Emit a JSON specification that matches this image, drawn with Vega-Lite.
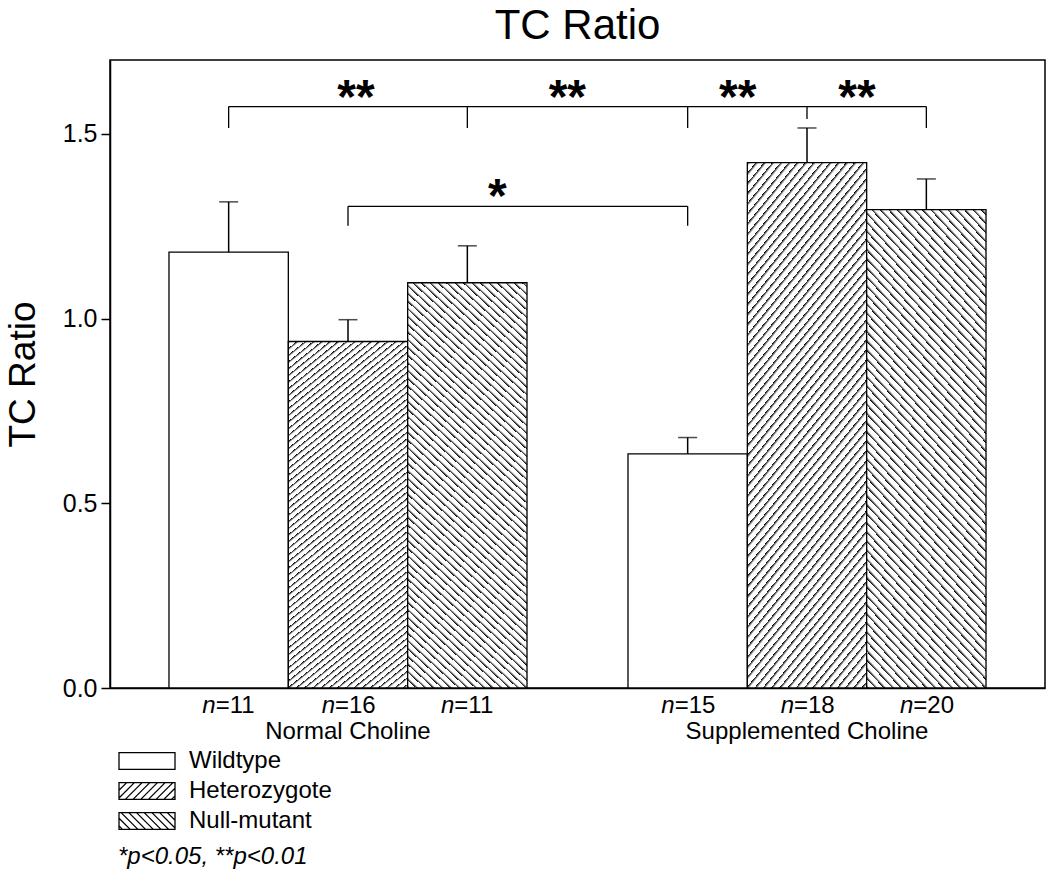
{
"$schema":"https://vega.github.io/schema/vega-lite/v6.json",
"autosize":"none",
"padding":{"left":110,"top":60,"right":5,"bottom":187},
"width":935,"height":628,
"background":"white",
"title":{"text":"TC Ratio","fontSize":42,"fontWeight":"normal","font":"Liberation Sans","color":"#000","offset":12,"anchor":"middle"},
"config":{"font":"Liberation Sans","view":{"stroke":"#000","strokeWidth":1.5},
 "axis":{"grid":false,"domainColor":"#000","domainWidth":1.5,"labelColor":"#000","titleColor":"#000","tickColor":"#000","tickWidth":1.5,"labelFont":"Liberation Sans","titleFont":"Liberation Sans"},
 "axisY":{"labelFontSize":25,"titleFontSize":37,"titleFontWeight":"normal","tickSize":9,"labelPadding":4,"titlePadding":20}},
"datasets":{
 "bars":[
  {"group":"Normal Choline","genotype":"Wildtype","ratio":1.18,"upper":1.316,"n":11},
  {"group":"Normal Choline","genotype":"Heterozygote","ratio":0.938,"upper":0.997,"n":16},
  {"group":"Normal Choline","genotype":"Null-mutant","ratio":1.097,"upper":1.197,"n":11},
  {"group":"Supplemented Choline","genotype":"Wildtype","ratio":0.634,"upper":0.678,"n":15},
  {"group":"Supplemented Choline","genotype":"Heterozygote","ratio":1.422,"upper":1.516,"n":18},
  {"group":"Supplemented Choline","genotype":"Null-mutant","ratio":1.295,"upper":1.378,"n":20}],
 "brackets":[
  {"bracket":"a","group":"Normal Choline","genotype":"Wildtype","top":1.574,"bottom":1.516},
  {"bracket":"a","group":"Normal Choline","genotype":"Null-mutant","top":1.574,"bottom":1.516},
  {"bracket":"a","group":"Supplemented Choline","genotype":"Wildtype","top":1.574,"bottom":1.516},
  {"bracket":"a","group":"Supplemented Choline","genotype":"Heterozygote","top":1.574,"bottom":1.54},
  {"bracket":"a","group":"Supplemented Choline","genotype":"Null-mutant","top":1.574,"bottom":1.516},
  {"bracket":"b","group":"Normal Choline","genotype":"Heterozygote","top":1.304,"bottom":1.251},
  {"bracket":"b","group":"Supplemented Choline","genotype":"Wildtype","top":1.304,"bottom":1.251}]
},
"encoding":{
 "x":{"field":"group","type":"nominal","title":null,"scale":{"domain":["Normal Choline","Supplemented Choline"],"paddingInner":0.22,"paddingOuter":0.1285},
  "axis":{"ticks":false,"tickSize":0,"labelAngle":0,"labelFontSize":24,"labelPadding":50,"labelBaseline":"alphabetic","labelLimit":0}},
 "xOffset":{"field":"genotype","type":"nominal","scale":{"domain":["Wildtype","Heterozygote","Null-mutant"],"paddingInner":0,"paddingOuter":0}}
},
"layer":[
 {"data":{"name":"bars"},"mark":{"type":"point","opacity":0,"filled":false,"color":"#000"},
  "encoding":{
   "y":{"field":"ratio","type":"quantitative","title":"TC Ratio","scale":{"domain":[0,1.7],"nice":false},"axis":{"values":[0,0.5,1,1.5],"format":".1f"}},
   "shape":{"field":"genotype","type":"nominal","scale":{"domain":["Wildtype","Heterozygote","Null-mutant"],"range":[
     "M-1,-0.6H3V0.6H-1Z",
     "M-1,-0.6H3V0.6H-1ZM-1,-0.05L-0.45,-0.6M-1,0.5L0.1,-0.6M-0.55,0.6L0.65,-0.6M0,0.6L1.2,-0.6M0.55,0.6L1.75,-0.6M1.1,0.6L2.3,-0.6M1.65,0.6L2.85,-0.6M2.2,0.6L3,-0.2M2.75,0.6L3,0.35",
     "M-1,-0.6H3V0.6H-1ZM3,-0.05L2.45,-0.6M3,0.5L1.9,-0.6M2.55,0.6L1.35,-0.6M2,0.6L0.8,-0.6M1.45,0.6L0.25,-0.6M0.9,0.6L-0.3,-0.6M0.35,0.6L-0.85,-0.6M-0.2,0.6L-1,-0.2M-0.75,0.6L-1,0.35"]},
    "legend":{"orient":"none","legendX":8,"legendY":686,"title":"*p<0.05, **p<0.01","titleOrient":"bottom","titleFontSize":24,"titleFontWeight":"normal","titleFontStyle":"italic","titleColor":"#000","titlePadding":12,"titleLimit":0,
     "labelFontSize":24,"labelColor":"#000","labelOffset":41,"labelLimit":0,"symbolSize":784,"symbolStrokeColor":"#000","symbolStrokeWidth":1.3,"symbolOpacity":1,"rowPadding":3,"padding":0}
   }
  }
 },
 {"data":{"name":"bars"},"transform":[{"filter":"datum.genotype === 'Wildtype'"}],"mark":{"type":"bar","stroke":"#000","strokeWidth":1.3,"fill":"#fff"},
  "encoding":{"y":{"field":"ratio","type":"quantitative","title":"TC Ratio","scale":{"domain":[0,1.7],"nice":false},"axis":{"values":[0,0.5,1,1.5],"format":".1f"}}}
 },
 {"data":{"name":"bars"},"transform":[{"filter":"datum.genotype === 'Heterozygote'"}],
  "mark":{"type":"bar","stroke":"#000","strokeWidth":1.3,"fill":{"gradient":"linear","x1":0,"y1":0,"x2":0.3305,"y2":1.1865,"stops":[
{"offset":0,"color":"#fff"},{"offset":0,"color":"#000"},{"offset":0.006,"color":"#fff"},
{"offset":0.015,"color":"#fff"},{"offset":0.015,"color":"#000"},{"offset":0.021,"color":"#fff"},
{"offset":0.03,"color":"#fff"},{"offset":0.03,"color":"#000"},{"offset":0.036,"color":"#fff"},
{"offset":0.045,"color":"#fff"},{"offset":0.045,"color":"#000"},{"offset":0.051,"color":"#fff"},
{"offset":0.06,"color":"#fff"},{"offset":0.06,"color":"#000"},{"offset":0.066,"color":"#fff"},
{"offset":0.075,"color":"#fff"},{"offset":0.075,"color":"#000"},{"offset":0.081,"color":"#fff"},
{"offset":0.09,"color":"#fff"},{"offset":0.09,"color":"#000"},{"offset":0.096,"color":"#fff"},
{"offset":0.105,"color":"#fff"},{"offset":0.105,"color":"#000"},{"offset":0.111,"color":"#fff"},
{"offset":0.12,"color":"#fff"},{"offset":0.12,"color":"#000"},{"offset":0.126,"color":"#fff"},
{"offset":0.135,"color":"#fff"},{"offset":0.135,"color":"#000"},{"offset":0.141,"color":"#fff"},
{"offset":0.15,"color":"#fff"},{"offset":0.15,"color":"#000"},{"offset":0.156,"color":"#fff"},
{"offset":0.165,"color":"#fff"},{"offset":0.165,"color":"#000"},{"offset":0.171,"color":"#fff"},
{"offset":0.18,"color":"#fff"},{"offset":0.18,"color":"#000"},{"offset":0.186,"color":"#fff"},
{"offset":0.195,"color":"#fff"},{"offset":0.195,"color":"#000"},{"offset":0.201,"color":"#fff"},
{"offset":0.21,"color":"#fff"},{"offset":0.21,"color":"#000"},{"offset":0.216,"color":"#fff"},
{"offset":0.225,"color":"#fff"},{"offset":0.225,"color":"#000"},{"offset":0.231,"color":"#fff"},
{"offset":0.24,"color":"#fff"},{"offset":0.24,"color":"#000"},{"offset":0.246,"color":"#fff"},
{"offset":0.255,"color":"#fff"},{"offset":0.255,"color":"#000"},{"offset":0.261,"color":"#fff"},
{"offset":0.27,"color":"#fff"},{"offset":0.27,"color":"#000"},{"offset":0.276,"color":"#fff"},
{"offset":0.285,"color":"#fff"},{"offset":0.285,"color":"#000"},{"offset":0.291,"color":"#fff"},
{"offset":0.3,"color":"#fff"},{"offset":0.3,"color":"#000"},{"offset":0.306,"color":"#fff"},
{"offset":0.315,"color":"#fff"},{"offset":0.315,"color":"#000"},{"offset":0.321,"color":"#fff"},
{"offset":0.33,"color":"#fff"},{"offset":0.33,"color":"#000"},{"offset":0.336,"color":"#fff"},
{"offset":0.345,"color":"#fff"},{"offset":0.345,"color":"#000"},{"offset":0.351,"color":"#fff"},
{"offset":0.36,"color":"#fff"},{"offset":0.36,"color":"#000"},{"offset":0.366,"color":"#fff"},
{"offset":0.375,"color":"#fff"},{"offset":0.375,"color":"#000"},{"offset":0.381,"color":"#fff"},
{"offset":0.39,"color":"#fff"},{"offset":0.39,"color":"#000"},{"offset":0.396,"color":"#fff"},
{"offset":0.405,"color":"#fff"},{"offset":0.405,"color":"#000"},{"offset":0.411,"color":"#fff"},
{"offset":0.42,"color":"#fff"},{"offset":0.42,"color":"#000"},{"offset":0.426,"color":"#fff"},
{"offset":0.435,"color":"#fff"},{"offset":0.435,"color":"#000"},{"offset":0.441,"color":"#fff"},
{"offset":0.45,"color":"#fff"},{"offset":0.45,"color":"#000"},{"offset":0.456,"color":"#fff"},
{"offset":0.465,"color":"#fff"},{"offset":0.465,"color":"#000"},{"offset":0.471,"color":"#fff"},
{"offset":0.48,"color":"#fff"},{"offset":0.48,"color":"#000"},{"offset":0.486,"color":"#fff"},
{"offset":0.495,"color":"#fff"},{"offset":0.495,"color":"#000"},{"offset":0.501,"color":"#fff"},
{"offset":0.51,"color":"#fff"},{"offset":0.51,"color":"#000"},{"offset":0.516,"color":"#fff"},
{"offset":0.525,"color":"#fff"},{"offset":0.525,"color":"#000"},{"offset":0.531,"color":"#fff"},
{"offset":0.54,"color":"#fff"},{"offset":0.54,"color":"#000"},{"offset":0.546,"color":"#fff"},
{"offset":0.555,"color":"#fff"},{"offset":0.555,"color":"#000"},{"offset":0.561,"color":"#fff"},
{"offset":0.57,"color":"#fff"},{"offset":0.57,"color":"#000"},{"offset":0.576,"color":"#fff"},
{"offset":0.585,"color":"#fff"},{"offset":0.585,"color":"#000"},{"offset":0.591,"color":"#fff"},
{"offset":0.6,"color":"#fff"},{"offset":0.6,"color":"#000"},{"offset":0.606,"color":"#fff"},
{"offset":0.615,"color":"#fff"},{"offset":0.615,"color":"#000"},{"offset":0.621,"color":"#fff"},
{"offset":0.63,"color":"#fff"},{"offset":0.63,"color":"#000"},{"offset":0.636,"color":"#fff"},
{"offset":0.645,"color":"#fff"},{"offset":0.645,"color":"#000"},{"offset":0.651,"color":"#fff"},
{"offset":0.66,"color":"#fff"},{"offset":0.66,"color":"#000"},{"offset":0.666,"color":"#fff"},
{"offset":0.675,"color":"#fff"},{"offset":0.675,"color":"#000"},{"offset":0.681,"color":"#fff"},
{"offset":0.69,"color":"#fff"},{"offset":0.69,"color":"#000"},{"offset":0.696,"color":"#fff"},
{"offset":0.705,"color":"#fff"},{"offset":0.705,"color":"#000"},{"offset":0.711,"color":"#fff"},
{"offset":0.72,"color":"#fff"},{"offset":0.72,"color":"#000"},{"offset":0.726,"color":"#fff"},
{"offset":0.735,"color":"#fff"},{"offset":0.735,"color":"#000"},{"offset":0.741,"color":"#fff"},
{"offset":0.75,"color":"#fff"},{"offset":0.75,"color":"#000"},{"offset":0.756,"color":"#fff"},
{"offset":0.765,"color":"#fff"},{"offset":0.765,"color":"#000"},{"offset":0.771,"color":"#fff"},
{"offset":0.78,"color":"#fff"},{"offset":0.78,"color":"#000"},{"offset":0.786,"color":"#fff"},
{"offset":0.795,"color":"#fff"},{"offset":0.795,"color":"#000"},{"offset":0.801,"color":"#fff"},
{"offset":0.81,"color":"#fff"},{"offset":0.81,"color":"#000"},{"offset":0.816,"color":"#fff"},
{"offset":0.825,"color":"#fff"},{"offset":0.825,"color":"#000"},{"offset":0.831,"color":"#fff"},
{"offset":0.84,"color":"#fff"},{"offset":0.84,"color":"#000"},{"offset":0.846,"color":"#fff"},
{"offset":0.855,"color":"#fff"},{"offset":0.855,"color":"#000"},{"offset":0.861,"color":"#fff"},
{"offset":0.87,"color":"#fff"},{"offset":0.87,"color":"#000"},{"offset":0.876,"color":"#fff"},
{"offset":0.885,"color":"#fff"},{"offset":0.885,"color":"#000"},{"offset":0.891,"color":"#fff"},
{"offset":0.9,"color":"#fff"},{"offset":0.9,"color":"#000"},{"offset":0.906,"color":"#fff"},
{"offset":0.915,"color":"#fff"},{"offset":0.915,"color":"#000"},{"offset":0.921,"color":"#fff"},
{"offset":0.93,"color":"#fff"},{"offset":0.93,"color":"#000"},{"offset":0.936,"color":"#fff"},
{"offset":0.945,"color":"#fff"},{"offset":0.945,"color":"#000"},{"offset":0.951,"color":"#fff"},
{"offset":0.96,"color":"#fff"},{"offset":0.96,"color":"#000"},{"offset":0.966,"color":"#fff"},
{"offset":0.975,"color":"#fff"},{"offset":0.975,"color":"#000"},{"offset":0.981,"color":"#fff"},
{"offset":0.99,"color":"#fff"},{"offset":0.99,"color":"#000"},{"offset":0.996,"color":"#fff"}]}},
  "encoding":{"y":{"field":"ratio","type":"quantitative","title":"TC Ratio","scale":{"domain":[0,1.7],"nice":false},"axis":{"values":[0,0.5,1,1.5],"format":".1f"}}}
 },
 {"data":{"name":"bars"},"transform":[{"filter":"datum.genotype === 'Null-mutant'"}],
  "mark":{"type":"bar","stroke":"#000","strokeWidth":1.3,"fill":{"gradient":"linear","x1":0,"y1":1,"x2":0.3191,"y2":-0.184,"stops":[
{"offset":0,"color":"#fff"},{"offset":0,"color":"#000"},{"offset":0.006,"color":"#fff"},
{"offset":0.015,"color":"#fff"},{"offset":0.015,"color":"#000"},{"offset":0.021,"color":"#fff"},
{"offset":0.03,"color":"#fff"},{"offset":0.03,"color":"#000"},{"offset":0.036,"color":"#fff"},
{"offset":0.045,"color":"#fff"},{"offset":0.045,"color":"#000"},{"offset":0.051,"color":"#fff"},
{"offset":0.06,"color":"#fff"},{"offset":0.06,"color":"#000"},{"offset":0.066,"color":"#fff"},
{"offset":0.075,"color":"#fff"},{"offset":0.075,"color":"#000"},{"offset":0.081,"color":"#fff"},
{"offset":0.09,"color":"#fff"},{"offset":0.09,"color":"#000"},{"offset":0.096,"color":"#fff"},
{"offset":0.105,"color":"#fff"},{"offset":0.105,"color":"#000"},{"offset":0.111,"color":"#fff"},
{"offset":0.12,"color":"#fff"},{"offset":0.12,"color":"#000"},{"offset":0.126,"color":"#fff"},
{"offset":0.135,"color":"#fff"},{"offset":0.135,"color":"#000"},{"offset":0.141,"color":"#fff"},
{"offset":0.15,"color":"#fff"},{"offset":0.15,"color":"#000"},{"offset":0.156,"color":"#fff"},
{"offset":0.165,"color":"#fff"},{"offset":0.165,"color":"#000"},{"offset":0.171,"color":"#fff"},
{"offset":0.18,"color":"#fff"},{"offset":0.18,"color":"#000"},{"offset":0.186,"color":"#fff"},
{"offset":0.195,"color":"#fff"},{"offset":0.195,"color":"#000"},{"offset":0.201,"color":"#fff"},
{"offset":0.21,"color":"#fff"},{"offset":0.21,"color":"#000"},{"offset":0.216,"color":"#fff"},
{"offset":0.225,"color":"#fff"},{"offset":0.225,"color":"#000"},{"offset":0.231,"color":"#fff"},
{"offset":0.24,"color":"#fff"},{"offset":0.24,"color":"#000"},{"offset":0.246,"color":"#fff"},
{"offset":0.255,"color":"#fff"},{"offset":0.255,"color":"#000"},{"offset":0.261,"color":"#fff"},
{"offset":0.27,"color":"#fff"},{"offset":0.27,"color":"#000"},{"offset":0.276,"color":"#fff"},
{"offset":0.285,"color":"#fff"},{"offset":0.285,"color":"#000"},{"offset":0.291,"color":"#fff"},
{"offset":0.3,"color":"#fff"},{"offset":0.3,"color":"#000"},{"offset":0.306,"color":"#fff"},
{"offset":0.315,"color":"#fff"},{"offset":0.315,"color":"#000"},{"offset":0.321,"color":"#fff"},
{"offset":0.33,"color":"#fff"},{"offset":0.33,"color":"#000"},{"offset":0.336,"color":"#fff"},
{"offset":0.345,"color":"#fff"},{"offset":0.345,"color":"#000"},{"offset":0.351,"color":"#fff"},
{"offset":0.36,"color":"#fff"},{"offset":0.36,"color":"#000"},{"offset":0.366,"color":"#fff"},
{"offset":0.375,"color":"#fff"},{"offset":0.375,"color":"#000"},{"offset":0.381,"color":"#fff"},
{"offset":0.39,"color":"#fff"},{"offset":0.39,"color":"#000"},{"offset":0.396,"color":"#fff"},
{"offset":0.405,"color":"#fff"},{"offset":0.405,"color":"#000"},{"offset":0.411,"color":"#fff"},
{"offset":0.42,"color":"#fff"},{"offset":0.42,"color":"#000"},{"offset":0.426,"color":"#fff"},
{"offset":0.435,"color":"#fff"},{"offset":0.435,"color":"#000"},{"offset":0.441,"color":"#fff"},
{"offset":0.45,"color":"#fff"},{"offset":0.45,"color":"#000"},{"offset":0.456,"color":"#fff"},
{"offset":0.465,"color":"#fff"},{"offset":0.465,"color":"#000"},{"offset":0.471,"color":"#fff"},
{"offset":0.48,"color":"#fff"},{"offset":0.48,"color":"#000"},{"offset":0.486,"color":"#fff"},
{"offset":0.495,"color":"#fff"},{"offset":0.495,"color":"#000"},{"offset":0.501,"color":"#fff"},
{"offset":0.51,"color":"#fff"},{"offset":0.51,"color":"#000"},{"offset":0.516,"color":"#fff"},
{"offset":0.525,"color":"#fff"},{"offset":0.525,"color":"#000"},{"offset":0.531,"color":"#fff"},
{"offset":0.54,"color":"#fff"},{"offset":0.54,"color":"#000"},{"offset":0.546,"color":"#fff"},
{"offset":0.555,"color":"#fff"},{"offset":0.555,"color":"#000"},{"offset":0.561,"color":"#fff"},
{"offset":0.57,"color":"#fff"},{"offset":0.57,"color":"#000"},{"offset":0.576,"color":"#fff"},
{"offset":0.585,"color":"#fff"},{"offset":0.585,"color":"#000"},{"offset":0.591,"color":"#fff"},
{"offset":0.6,"color":"#fff"},{"offset":0.6,"color":"#000"},{"offset":0.606,"color":"#fff"},
{"offset":0.615,"color":"#fff"},{"offset":0.615,"color":"#000"},{"offset":0.621,"color":"#fff"},
{"offset":0.63,"color":"#fff"},{"offset":0.63,"color":"#000"},{"offset":0.636,"color":"#fff"},
{"offset":0.645,"color":"#fff"},{"offset":0.645,"color":"#000"},{"offset":0.651,"color":"#fff"},
{"offset":0.66,"color":"#fff"},{"offset":0.66,"color":"#000"},{"offset":0.666,"color":"#fff"},
{"offset":0.675,"color":"#fff"},{"offset":0.675,"color":"#000"},{"offset":0.681,"color":"#fff"},
{"offset":0.69,"color":"#fff"},{"offset":0.69,"color":"#000"},{"offset":0.696,"color":"#fff"},
{"offset":0.705,"color":"#fff"},{"offset":0.705,"color":"#000"},{"offset":0.711,"color":"#fff"},
{"offset":0.72,"color":"#fff"},{"offset":0.72,"color":"#000"},{"offset":0.726,"color":"#fff"},
{"offset":0.735,"color":"#fff"},{"offset":0.735,"color":"#000"},{"offset":0.741,"color":"#fff"},
{"offset":0.75,"color":"#fff"},{"offset":0.75,"color":"#000"},{"offset":0.756,"color":"#fff"},
{"offset":0.765,"color":"#fff"},{"offset":0.765,"color":"#000"},{"offset":0.771,"color":"#fff"},
{"offset":0.78,"color":"#fff"},{"offset":0.78,"color":"#000"},{"offset":0.786,"color":"#fff"},
{"offset":0.795,"color":"#fff"},{"offset":0.795,"color":"#000"},{"offset":0.801,"color":"#fff"},
{"offset":0.81,"color":"#fff"},{"offset":0.81,"color":"#000"},{"offset":0.816,"color":"#fff"},
{"offset":0.825,"color":"#fff"},{"offset":0.825,"color":"#000"},{"offset":0.831,"color":"#fff"},
{"offset":0.84,"color":"#fff"},{"offset":0.84,"color":"#000"},{"offset":0.846,"color":"#fff"},
{"offset":0.855,"color":"#fff"},{"offset":0.855,"color":"#000"},{"offset":0.861,"color":"#fff"},
{"offset":0.87,"color":"#fff"},{"offset":0.87,"color":"#000"},{"offset":0.876,"color":"#fff"},
{"offset":0.885,"color":"#fff"},{"offset":0.885,"color":"#000"},{"offset":0.891,"color":"#fff"},
{"offset":0.9,"color":"#fff"},{"offset":0.9,"color":"#000"},{"offset":0.906,"color":"#fff"},
{"offset":0.915,"color":"#fff"},{"offset":0.915,"color":"#000"},{"offset":0.921,"color":"#fff"},
{"offset":0.93,"color":"#fff"},{"offset":0.93,"color":"#000"},{"offset":0.936,"color":"#fff"},
{"offset":0.945,"color":"#fff"},{"offset":0.945,"color":"#000"},{"offset":0.951,"color":"#fff"},
{"offset":0.96,"color":"#fff"},{"offset":0.96,"color":"#000"},{"offset":0.966,"color":"#fff"},
{"offset":0.975,"color":"#fff"},{"offset":0.975,"color":"#000"},{"offset":0.981,"color":"#fff"},
{"offset":0.99,"color":"#fff"},{"offset":0.99,"color":"#000"},{"offset":0.996,"color":"#fff"}]}},
  "encoding":{"y":{"field":"ratio","type":"quantitative","title":"TC Ratio","scale":{"domain":[0,1.7],"nice":false},"axis":{"values":[0,0.5,1,1.5],"format":".1f"}}}
 },
 {"data":{"name":"bars"},"mark":{"type":"rule","color":"#000","strokeWidth":1.5},
  "encoding":{"y":{"field":"ratio","type":"quantitative","title":"TC Ratio","scale":{"domain":[0,1.7],"nice":false},"axis":{"values":[0,0.5,1,1.5],"format":".1f"}},"y2":{"field":"upper"}}},
 {"data":{"name":"bars"},"mark":{"type":"tick","color":"#000","thickness":1.5,"size":19},
  "encoding":{"y":{"field":"upper","type":"quantitative","title":"TC Ratio","scale":{"domain":[0,1.7],"nice":false},"axis":{"values":[0,0.5,1,1.5],"format":".1f"}}}},
 {"data":{"name":"brackets"},"mark":{"type":"line","color":"#000","strokeWidth":1.3},
  "encoding":{"y":{"field":"top","type":"quantitative","title":"TC Ratio","scale":{"domain":[0,1.7],"nice":false},"axis":{"values":[0,0.5,1,1.5],"format":".1f"}},"detail":{"field":"bracket","type":"nominal"}}},
 {"data":{"name":"brackets"},"mark":{"type":"rule","color":"#000","strokeWidth":1.3},
  "encoding":{"y":{"field":"top","type":"quantitative","title":"TC Ratio","scale":{"domain":[0,1.7],"nice":false},"axis":{"values":[0,0.5,1,1.5],"format":".1f"}},"y2":{"field":"bottom"}}},
 {"data":{"values":[{"group":"Normal Choline","genotype":"Heterozygote","label":"**","level":1.574}]},
  "mark":{"type":"text","fontSize":48,"fontWeight":"bold","align":"center","baseline":"alphabetic","dx":8,"dy":6,"color":"#000"},
  "encoding":{"y":{"field":"level","type":"quantitative","title":"TC Ratio","scale":{"domain":[0,1.7],"nice":false},"axis":{"values":[0,0.5,1,1.5],"format":".1f"}},"text":{"field":"label"}}},
 {"data":{"values":[{"group":"Supplemented Choline","genotype":"Wildtype","label":"**","level":1.574},{"group":"Supplemented Choline","genotype":"Heterozygote","label":"**","level":1.574}]},
  "mark":{"type":"text","fontSize":48,"fontWeight":"bold","align":"center","baseline":"alphabetic","dx":50,"dy":6,"color":"#000"},
  "encoding":{"y":{"field":"level","type":"quantitative","title":"TC Ratio","scale":{"domain":[0,1.7],"nice":false},"axis":{"values":[0,0.5,1,1.5],"format":".1f"}},"text":{"field":"label"}}},
 {"data":{"values":[{"group":"Normal Choline","genotype":"Null-mutant","label":"**","level":1.574}]},
  "mark":{"type":"text","fontSize":48,"fontWeight":"bold","align":"center","baseline":"alphabetic","dx":100,"dy":6,"color":"#000"},
  "encoding":{"y":{"field":"level","type":"quantitative","title":"TC Ratio","scale":{"domain":[0,1.7],"nice":false},"axis":{"values":[0,0.5,1,1.5],"format":".1f"}},"text":{"field":"label"}}},
 {"data":{"values":[{"group":"Normal Choline","genotype":"Null-mutant","label":"*","level":1.304}]},
  "mark":{"type":"text","fontSize":48,"fontWeight":"bold","align":"center","baseline":"alphabetic","dx":30,"dy":6,"color":"#000"},
  "encoding":{"y":{"field":"level","type":"quantitative","title":"TC Ratio","scale":{"domain":[0,1.7],"nice":false},"axis":{"values":[0,0.5,1,1.5],"format":".1f"}},"text":{"field":"label"}}},
 {"data":{"name":"bars"},
  "mark":{"type":"text","text":"n","fontSize":24,"fontStyle":"italic","align":"right","baseline":"alphabetic","dx":-13,"dy":25,"color":"#000"},
  "encoding":{"y":{"datum":0,"type":"quantitative","title":"TC Ratio","scale":{"domain":[0,1.7],"nice":false},"axis":{"values":[0,0.5,1,1.5],"format":".1f"}}}},
 {"data":{"name":"bars"},"transform":[{"calculate":"'=' + datum.n","as":"nlab"}],
  "mark":{"type":"text","fontSize":24,"align":"left","baseline":"alphabetic","dx":-13,"dy":25,"color":"#000"},
  "encoding":{"y":{"datum":0,"type":"quantitative","title":"TC Ratio","scale":{"domain":[0,1.7],"nice":false},"axis":{"values":[0,0.5,1,1.5],"format":".1f"}},"text":{"field":"nlab"}}}
]
}
